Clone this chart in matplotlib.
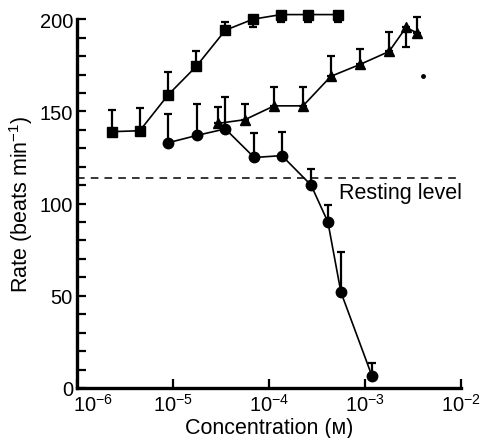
import numpy as np
import matplotlib.pyplot as plt
import matplotlib.transforms as mtransforms
from matplotlib.ticker import MultipleLocator, FixedLocator

# concentration (M) and rate (beats/min)
sq_conc = [2.3e-6, 4.5e-6, 8.9e-6, 1.75e-5, 3.5e-5, 6.8e-5, 1.33e-4, 2.55e-4, 5.2e-4]
sq_rate = [139, 139.5, 159, 174.5, 194, 200, 202.5, 202.5, 202.5]
sq_err_up = [12, 12.5, 12.5, 8, 4.5, 0, 0, 0, 0]
sq_err_dn = [0, 0, 0, 0, 0, 4, 4, 4, 4]

circ_conc = [8.9e-6, 1.78e-5, 3.5e-5, 7.0e-5, 1.36e-4, 2.74e-4, 4.1e-4, 5.6e-4, 1.18e-3]
circ_rate = [133, 137, 140.5, 125, 126, 110, 90, 52, 6.5]
circ_err_up = [15.5, 17, 17.5, 13.5, 13, 9, 9, 22, 7]
circ_err_dn = [0] * 9

tri_conc = [2.95e-5, 5.6e-5, 1.13e-4, 2.26e-4, 4.4e-4, 8.9e-4, 1.78e-3, 2.67e-3, 3.5e-3]
tri_rate = [143.5, 145.5, 153, 153, 169, 175.5, 182.5, 195.5, 192.5]
tri_err_up = [9, 8.5, 10, 10, 11, 8.5, 10.5, 0, 8.5]
tri_err_dn = [0, 0, 0, 0, 0, 0, 0, 10.5, 0]

stray_conc = [4.0e-3]
stray_rate = [169]

resting = 114

x_ticks = [1e-6, 1e-5, 1e-4, 1e-3, 1e-2]
x_labels = ['$10^{-6}$', '$10^{-5}$', '$10^{-4}$', '$10^{-3}$', '$10^{-2}$']

plt.rcParams['font.family'] = ['Liberation Sans', 'DejaVu Sans']
plt.rcParams['mathtext.fontset'] = 'custom'
plt.rcParams['mathtext.rm'] = 'Liberation Sans'
plt.rcParams['mathtext.default'] = 'regular'

fig = plt.figure(figsize=(4.91, 4.39), dpi=100)
ax = fig.add_axes([0.157, 0.114, 0.782, 0.840])

series = [
    (sq_conc, sq_rate, sq_err_dn, sq_err_up, 's', 7),
    (circ_conc, circ_rate, circ_err_dn, circ_err_up, 'o', 7.5),
    (tri_conc, tri_rate, tri_err_dn, tri_err_up, '^', 6.5),
]
for conc, rate, dn, up, m, ms in series:
    ax.errorbar(conc, rate, yerr=[dn, up], fmt='-' + m, color='black',
                ms=ms, lw=1.2, elinewidth=1.6, capsize=3, capthick=1.6,
                clip_on=False, zorder=3)

ax.plot(stray_conc, stray_rate, 'o', color='black', ms=2.5, clip_on=False)

ax.plot([1e-6, 9e-3], [resting, resting], '--', color='black', lw=1.1,
        dashes=(5, 4))
ax.text(5.3e-4, resting - 2.5, 'Resting level', fontsize=15.5, va='top', ha='left')

ax.set_xscale('log')
ax.set_xlim(1e-6, 1e-2)
ax.set_ylim(0, 200)

ax.xaxis.set_major_locator(FixedLocator(x_ticks))
ax.xaxis.set_minor_locator(FixedLocator([]))
ax.set_xticklabels(x_labels)
ax.yaxis.set_major_locator(MultipleLocator(50))
ax.yaxis.set_minor_locator(MultipleLocator(10))

ax.spines['top'].set_visible(False)
ax.spines['right'].set_visible(False)
for s in ['left', 'bottom']:
    ax.spines[s].set_linewidth(2.4)

ax.tick_params(axis='both', which='both', direction='in', width=1.6,
               length=6.5, labelsize=14.5)
ax.tick_params(axis='y', pad=3)
ax.tick_params(axis='x', pad=3.5)

# first x label sits to the right of the axis corner
first = ax.get_xticklabels()[0]
first.set_transform(first.get_transform() +
                    mtransforms.ScaledTranslation(0.16, 0, fig.dpi_scale_trans))

ax.set_xlabel('Concentration (ᴍ)', fontsize=15.5, labelpad=2)
ax.set_ylabel('Rate (beats min$^{-1}$)', fontsize=15.5, labelpad=3)

plt.savefig('out.png', dpi=100)
